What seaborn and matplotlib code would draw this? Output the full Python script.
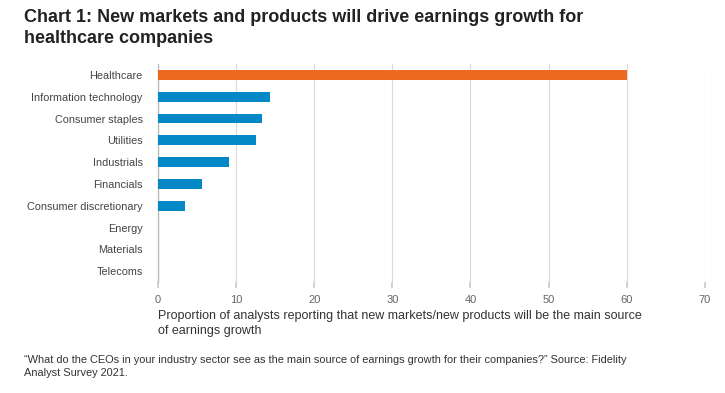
import matplotlib
matplotlib.use("Agg")
import matplotlib.pyplot as plt
import seaborn as sns
import pandas as pd

# --- data ---
sectors = ["Healthcare", "Information technology", "Consumer staples", "Utilities",
           "Industrials", "Financials", "Consumer discretionary", "Energy",
           "Materials", "Telecoms"]
shares = [60, 14.3, 13.3, 12.5, 9.1, 5.6, 3.5, 0, 0, 0]
highlight = ["yes", "no", "no", "no", "no", "no", "no", "no", "no", "no"]
x_ticks = [0, 10, 20, 30, 40, 50, 60, 70]

df = pd.DataFrame({"sector": sectors, "share": shares, "hl": highlight})

sns.set_theme(style="white")
plt.rcParams["font.family"] = ["Liberation Sans", "DejaVu Sans"]

fig = plt.figure(figsize=(7.25, 3.93), dpi=100)
ax = fig.add_axes([0.218, 0.282, 0.754, 0.555])

sns.barplot(data=df, y="sector", x="share", hue="hl", orient="h",
            palette={"yes": "#EB6A1F", "no": "#0589C6"}, width=0.45,
            saturation=1, linewidth=0, legend=False, ax=ax, zorder=3)

ax.set_xlim(0, 70)
ax.set_xticks(x_ticks)
ax.set_xticklabels([str(t) for t in x_ticks], fontsize=8, color="#666666")
ax.tick_params(axis="y", length=0, labelsize=7.8, labelcolor="#444444", pad=11)
ax.tick_params(axis="x", length=4, color="#cccccc", pad=5, bottom=True)
ax.set_ylabel("")
ax.set_xlabel("Proportion of analysts reporting that new markets/new products will be the main source\nof earnings growth",
              fontsize=9, color="#333333", loc="left", labelpad=4, linespacing=1.3)
ax.grid(axis="x", color="#d9d9d9", linewidth=0.8, zorder=0)
for s in ["top", "right", "bottom"]:
    ax.spines[s].set_visible(False)
ax.spines["left"].set_color("#bbbbbb")
ax.spines["left"].set_linewidth(1.0)

fig.text(0.033, 0.978, "Chart 1: New markets and products will drive earnings growth for\nhealthcare companies",
         fontsize=13, fontweight="bold", color="#222222", va="top", linespacing=1.35)
fig.text(0.033, 0.097, "\u201cWhat do the CEOs in your industry sector see as the main source of earnings growth for their companies?\u201d Source: Fidelity\nAnalyst Survey 2021.",
         fontsize=7.9, color="#333333", va="top", linespacing=1.45)

fig.savefig("out.png", dpi=100)
